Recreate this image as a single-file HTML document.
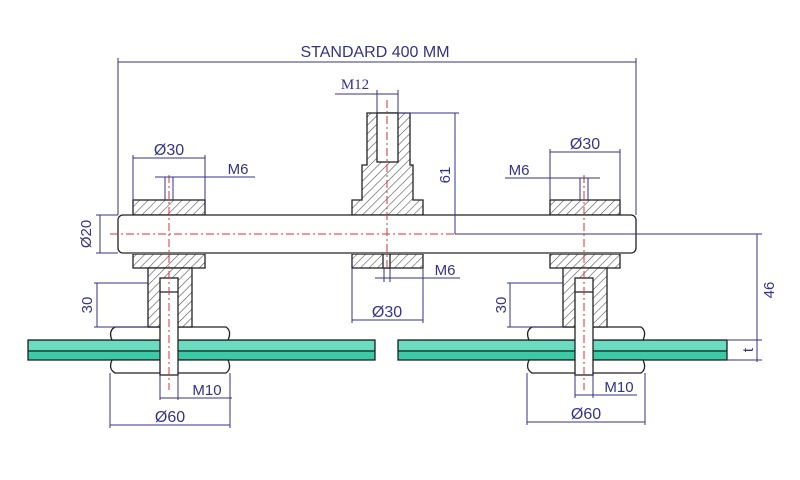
<!DOCTYPE html>
<html><head><meta charset="utf-8"><style>html,body{margin:0;padding:0;background:#fff}svg{display:block}</style></head>
<body>
<svg width="800" height="480" viewBox="0 0 800 480" xmlns="http://www.w3.org/2000/svg" font-family="Liberation Sans, sans-serif">
<defs>
<pattern id="h" width="6" height="6" patternUnits="userSpaceOnUse" patternTransform="rotate(45)">
<rect width="6" height="6" fill="#fff"/><line x1="0" y1="0" x2="0" y2="6" stroke="#555" stroke-width="1.2"/>
</pattern>
</defs>
<rect width="800" height="480" fill="#fff"/>
<g stroke="#222" stroke-width="1.3">
<!-- glass -->
<rect x="28" y="340" width="347" height="20" fill="#3cc9a6"/>
<rect x="398" y="340" width="329" height="20" fill="#3cc9a6"/>
<rect x="29" y="341" width="345" height="9" fill="#6cdcc0" stroke="none"/>
<rect x="399" y="341" width="327" height="9" fill="#6cdcc0" stroke="none"/>
<line x1="28" y1="351" x2="375" y2="351"/><line x1="398" y1="351" x2="727" y2="351"/>
<!-- washers -->
<path d="M115 327 H226 Q232 331 228 340 H112 Q108 331 115 327Z" fill="#fff"/>
<path d="M112 360 H228 Q232 369 226 373 H115 Q108 369 112 360Z" fill="#fff"/>
<path d="M532 327 H641 Q647 331 643 340 H529 Q525 331 532 327Z" fill="#fff"/>
<path d="M529 360 H643 Q647 369 641 373 H532 Q525 369 529 360Z" fill="#fff"/>
<!-- left clamp -->
<rect x="133" y="200" width="72" height="15" fill="url(#h)"/>
<rect x="133" y="254" width="72" height="14" fill="url(#h)"/>
<rect x="148" y="268" width="44" height="59" fill="url(#h)"/>
<rect x="160" y="278" width="18" height="97" fill="#fff"/>
<line x1="160" y1="292" x2="178" y2="292"/>
<!-- right clamp -->
<rect x="550" y="200" width="70" height="15" fill="url(#h)"/>
<rect x="550" y="254" width="70" height="14" fill="url(#h)"/>
<rect x="563" y="268" width="44" height="59" fill="url(#h)"/>
<rect x="575" y="278" width="18" height="97" fill="#fff"/>
<line x1="575" y1="292" x2="593" y2="292"/>
<!-- center post -->
<path d="M367 113 H410 V165 H413 V200 H423 V215 H352 V200 H362 V165 H367Z" fill="url(#h)"/>
<rect x="377" y="113" width="21" height="49" fill="#fff"/>
<rect x="352" y="254" width="71" height="14" fill="url(#h)"/>
<rect x="383" y="254" width="7" height="14" fill="#fff"/>
<!-- tube -->
<rect x="118" y="215" width="518" height="38" rx="5" fill="#fff"/>
<line x1="122" y1="253" x2="632" y2="253" stroke="#777" stroke-width="2"/>
</g>
<!-- center lines -->
<g stroke="#d33" stroke-width="1" stroke-dasharray="8,3,2,3" fill="none">
<line x1="110" y1="234" x2="460" y2="234"/>
<line x1="169" y1="175" x2="169" y2="390"/>
<line x1="584" y1="175" x2="584" y2="390"/>
<line x1="387" y1="100" x2="387" y2="270"/>
</g>
<!-- dimensions -->
<g stroke="#33338a" stroke-width="1" fill="none">
<line x1="118" y1="62" x2="636" y2="62"/><line x1="118" y1="58" x2="118" y2="215"/><line x1="636" y1="58" x2="636" y2="215"/>
<line x1="335" y1="94" x2="398" y2="94"/><line x1="377" y1="90" x2="377" y2="113"/><line x1="398" y1="90" x2="398" y2="113"/>
<line x1="398" y1="113" x2="459" y2="113"/><line x1="455" y1="113" x2="455" y2="234"/>
<line x1="133" y1="158" x2="205" y2="158"/><line x1="133" y1="155" x2="133" y2="200"/><line x1="205" y1="155" x2="205" y2="200"/>
<line x1="155" y1="177" x2="255" y2="177"/><line x1="165" y1="177" x2="165" y2="200"/><line x1="173" y1="177" x2="173" y2="200"/>
<line x1="96" y1="215" x2="118" y2="215"/><line x1="96" y1="253" x2="118" y2="253"/><line x1="100" y1="215" x2="100" y2="253"/>
<line x1="375" y1="278" x2="460" y2="278"/><line x1="384" y1="268" x2="384" y2="282"/><line x1="390" y1="268" x2="390" y2="282"/>
<line x1="352" y1="320" x2="423" y2="320"/><line x1="352" y1="268" x2="352" y2="323"/><line x1="423" y1="268" x2="423" y2="323"/>
<line x1="97" y1="283" x2="97" y2="327"/><line x1="94" y1="283" x2="148" y2="283"/><line x1="94" y1="327" x2="148" y2="327"/>
<line x1="160" y1="398" x2="232" y2="398"/><line x1="160" y1="375" x2="160" y2="400"/><line x1="178" y1="375" x2="178" y2="400"/>
<line x1="110" y1="425" x2="230" y2="425"/><line x1="110" y1="373" x2="110" y2="428"/><line x1="230" y1="373" x2="230" y2="428"/>
<line x1="550" y1="152" x2="620" y2="152"/><line x1="550" y1="149" x2="550" y2="200"/><line x1="620" y1="149" x2="620" y2="200"/>
<line x1="505" y1="178" x2="600" y2="178"/><line x1="580" y1="178" x2="580" y2="200"/><line x1="588" y1="178" x2="588" y2="200"/>
<line x1="510" y1="283" x2="510" y2="327"/><line x1="507" y1="283" x2="563" y2="283"/><line x1="507" y1="327" x2="563" y2="327"/>
<line x1="575" y1="395" x2="637" y2="395"/><line x1="575" y1="375" x2="575" y2="398"/><line x1="593" y1="375" x2="593" y2="398"/>
<line x1="527" y1="422" x2="645" y2="422"/><line x1="527" y1="373" x2="527" y2="425"/><line x1="645" y1="373" x2="645" y2="425"/>
<line x1="455" y1="234" x2="762" y2="234"/><line x1="757" y1="234" x2="757" y2="362"/>
<line x1="727" y1="340" x2="762" y2="340"/><line x1="727" y1="360" x2="762" y2="360"/>
</g>
<g fill="#33338a" font-size="15">
<text x="375" y="57" text-anchor="middle" font-size="16">STANDARD 400 MM</text>
<text x="355" y="89" text-anchor="middle" font-family="Liberation Serif, serif" font-size="15">M12</text>
<text x="169" y="155" text-anchor="middle" font-size="16">Ø30</text>
<text x="238" y="174" text-anchor="middle">M6</text>
<text x="585" y="149" text-anchor="middle" font-size="16">Ø30</text>
<text x="519" y="175" text-anchor="middle">M6</text>
<text x="445" y="275" text-anchor="middle">M6</text>
<text x="387" y="317" text-anchor="middle" font-size="16">Ø30</text>
<text x="207" y="395" text-anchor="middle">M10</text>
<text x="619" y="392" text-anchor="middle">M10</text>
<text x="170" y="422" text-anchor="middle" font-size="16">Ø60</text>
<text x="586" y="419" text-anchor="middle" font-size="16">Ø60</text>
<text transform="translate(91,234) rotate(-90)" text-anchor="middle">Ø20</text>
<text transform="translate(450,175) rotate(-90)" text-anchor="middle">61</text>
<text transform="translate(92,305) rotate(-90)" text-anchor="middle">30</text>
<text transform="translate(506,305) rotate(-90)" text-anchor="middle">30</text>
<text transform="translate(774,290) rotate(-90)" text-anchor="middle">46</text>
<text transform="translate(753,350) rotate(-90)" text-anchor="middle">t</text>
</g>
</svg>
</body></html>
